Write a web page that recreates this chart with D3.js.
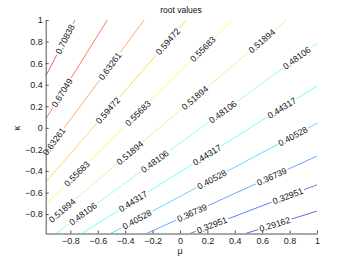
<!DOCTYPE html>
<html>
<head>
<meta charset="utf-8">
<script src="https://cdn.jsdelivr.net/npm/d3@7"></script>
<style>
  body { margin: 0; background: #fff; }
  text { font-family: "Liberation Sans", Arial, sans-serif; }
</style>
</head>
<body>
<div id="chart"></div>
<script>
// Contour levels (lowest to highest)
const levels = [0.29162, 0.32951, 0.36739, 0.40528, 0.44317, 0.48106,
                0.51894, 0.55683, 0.59472, 0.63261, 0.67049, 0.70838];

// Each contour line as [mu, kappa] points
const contourLines = [
    [[0.479, -0.98], [1, -0.772]],
    [[0.073, -0.98], [1, -0.528]],
    [[-0.243, -0.98], [1, -0.262]],
    [[-0.506, -0.98], [1, 0.042]],
    [[-0.717, -0.98], [1, 0.388]],
    [[-0.905, -0.98], [1, 0.784]],
    [[-0.98, -0.895], [0.778, 1]],
    [[-0.98, -0.713], [0.381, 1]],
    [[-0.98, -0.503], [0.048, 1]],
    [[-0.98, -0.231], [-0.261, 1]],
    [[-0.98, 0.082], [-0.531, 1]],
    [[-0.98, 0.48], [-0.766, 1]]
];

// mu positions of the inline labels on each contour
const labelMu = [
    [0.692],
    [0.233, 0.787],
    [0.087, 0.670],
    [-0.314, 0.233, 0.824],
    [-0.343, 0.197, 0.744],
    [-0.708, -0.183, 0.313, 0.852],
    [-0.861, -0.365, 0.109, 0.597],
    [-0.752, -0.307, 0.167],
    [-0.526, -0.088],
    [-0.919, -0.511],
    [-0.861],
    [-0.839]
];

const muTicks = [-0.8, -0.6, -0.4, -0.2, 0, 0.2, 0.4, 0.6, 0.8, 1];
const kappaTicks = [-0.8, -0.6, -0.4, -0.2, 0, 0.2, 0.4, 0.6, 0.8, 1];

const margin = { top: 20, right: 33, bottom: 30.5, left: 45.7 };
const width = 350 - margin.left - margin.right;
const height = 264 - margin.top - margin.bottom;

const svg = d3.select("#chart")
    .append("svg")
    .attr("width", 350)
    .attr("height", 264);

const g = svg.append("g")
    .attr("transform", `translate(${margin.left},${margin.top})`);

const x = d3.scaleLinear().domain([-0.98, 1]).range([0, width]);
const y = d3.scaleLinear().domain([-0.98, 1]).range([height, 0]);

// jet colour map, levels sit at k/13 of the data range
function jet(t) {
    const c = v => Math.round(255 * Math.max(0, Math.min(1, v)));
    return `rgb(${c(1.5 - Math.abs(4 * t - 3))},${c(1.5 - Math.abs(4 * t - 2))},${c(1.5 - Math.abs(4 * t - 1))})`;
}

const defs = svg.append("defs");
defs.append("clipPath").attr("id", "plot-clip")
    .append("rect").attr("width", width).attr("height", height);

const lineGen = d3.line().x(d => x(d[0])).y(d => y(d[1]));
const labelsG = g.append("g");

levels.forEach((lev, i) => {
    const pts = contourLines[i];
    const [x0, y0] = [x(pts[0][0]), y(pts[0][1])];
    const [x1, y1] = [x(pts[1][0]), y(pts[1][1])];
    const angle = Math.atan2(y1 - y0, x1 - x0) * 180 / Math.PI;

    const mask = defs.append("mask").attr("id", "m" + i)
        .attr("maskUnits", "userSpaceOnUse")
        .attr("x", -10).attr("y", -10).attr("width", width + 20).attr("height", height + 20);
    mask.append("rect").attr("x", -10).attr("y", -10)
        .attr("width", width + 20).attr("height", height + 20).attr("fill", "#fff");

    labelMu[i].forEach(m => {
        const px = x(m);
        const py = y0 + (px - x0) / (x1 - x0) * (y1 - y0);
        const t = labelsG.append("text")
            .attr("transform", `translate(${px},${py}) rotate(${angle})`)
            .attr("text-anchor", "middle")
            .attr("dy", "0.35em")
            .attr("font-size", 8.8)
            .attr("fill", "#111")
            .text(lev.toFixed(5));
        const w = t.node().getComputedTextLength() + 3;
        mask.append("rect")
            .attr("transform", `translate(${px},${py}) rotate(${angle})`)
            .attr("x", -w / 2).attr("y", -4).attr("width", w).attr("height", 8)
            .attr("fill", "#000");
    });

    g.insert("g", () => labelsG.node())
        .attr("clip-path", "url(#plot-clip)")
        .append("path")
        .datum(pts)
        .attr("fill", "none")
        .attr("stroke", jet((i + 1) / 13))
        .attr("stroke-width", 0.7)
        .attr("stroke-opacity", 0.85)
        .attr("mask", `url(#m${i})`)
        .attr("d", lineGen);
});

// Axes, ticks pointing inward
const fmt = d => d3.format("")(d).replace("-", "\u2212");
const xAxis = g.append("g")
    .attr("transform", `translate(0,${height})`)
    .call(d3.axisBottom(x).tickValues(muTicks).tickFormat(fmt)
        .tickSizeInner(-3).tickSizeOuter(0).tickPadding(4));
const yAxis = g.append("g")
    .call(d3.axisLeft(y).tickValues(kappaTicks).tickFormat(fmt)
        .tickSizeInner(-3).tickSizeOuter(0).tickPadding(3));

[xAxis, yAxis].forEach(a => {
    a.select(".domain").attr("stroke", "#555");
    a.selectAll(".tick line").attr("stroke", "#555");
    a.selectAll(".tick text").attr("font-size", 9).attr("fill", "#222")
        .style("font-family", '"Liberation Sans", Arial, sans-serif');
});

svg.append("text")
    .attr("x", 181).attr("y", 13)
    .attr("text-anchor", "middle")
    .attr("font-size", 8.5)
    .attr("fill", "#111")
    .text("root values");

svg.append("text")
    .attr("x", 180).attr("y", 254)
    .attr("text-anchor", "middle")
    .attr("font-size", 9)
    .attr("fill", "#222")
    .text("μ");

svg.append("text")
    .attr("transform", "translate(20,128) rotate(-90)")
    .attr("text-anchor", "middle")
    .attr("font-size", 9)
    .attr("fill", "#222")
    .text("κ");
</script>
</body>
</html>
